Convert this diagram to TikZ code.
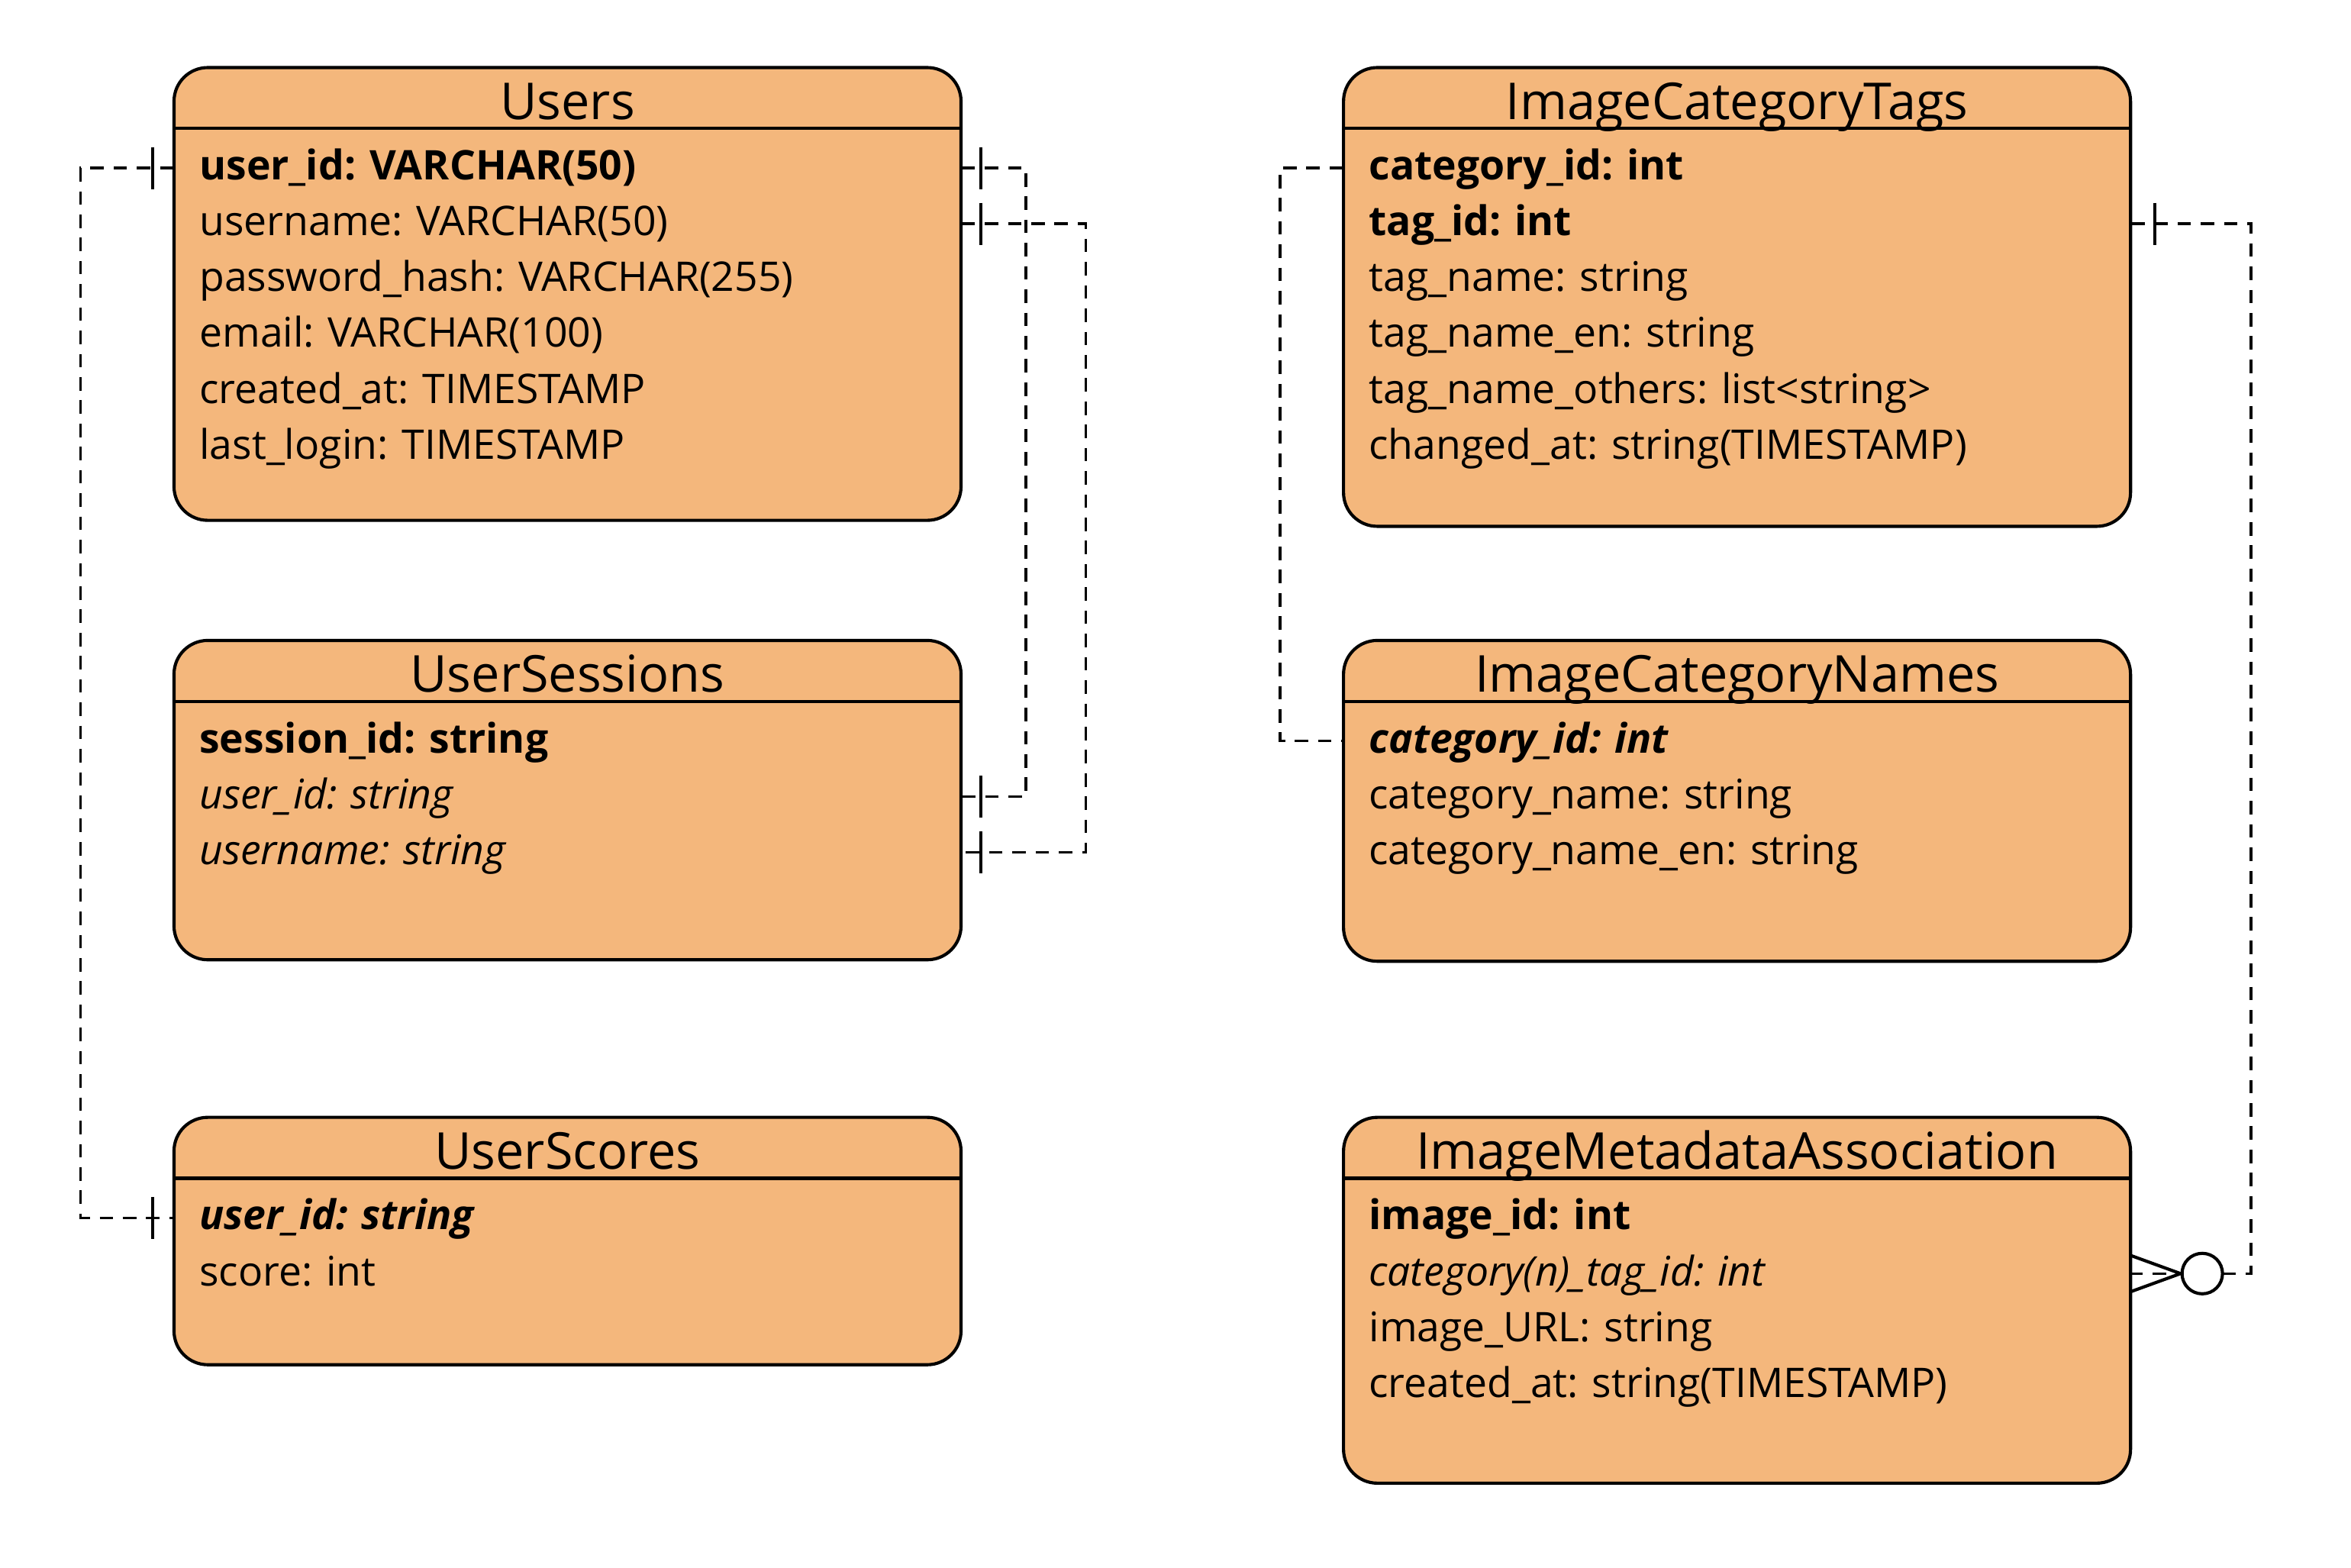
\documentclass[tikz,border=0pt]{standalone}
\usepackage{fontspec}
\setmainfont{Open Sans}
\usepackage{xcolor}
\usetikzlibrary{positioning,calc}

\definecolor{tblfill}{HTML}{F4B77C}
\frenchspacing

% bar of a "one" end, #1 = anchor, #2 = shift from the box edge
\newcommand{\onemark}[2]{\draw[barline] ([xshift=#2]#1) ++(0,0.28cm) -- ++(0,-0.56cm);}

\begin{document}
\begin{tikzpicture}[
    x=0.02cm, y=0.02cm,
    tbl/.style={rectangle, draw, line width=1.2pt, rounded corners=0.45cm, fill=tblfill, minimum width=10.5cm, anchor=north west, inner sep=0pt},
    ttl/.style={minimum width=10.5cm, minimum height=0.82cm, inner sep=0pt, text height=19pt, text depth=2.4pt, font=\fontsize{19.3}{22}\selectfont},
    fld/.style={text width=9.82cm, inner xsep=0.34cm, inner ysep=0pt, minimum height=0.73cm, align=left, text height=11.5pt, text depth=2.4pt, font=\fontsize{15.5}{18}\selectfont},
    rel/.style={line width=1pt, dash pattern=on 0.18cm off 0.13cm},
    barline/.style={line width=1.2pt}
]
    \useasboundingbox (0,0) rectangle (1568,-1045.3);

    % left column
    \node[tbl, minimum height=6.04cm] (users) at (115,-44) {};
    \node[ttl, below=0pt of users.north] (users-t) {Users};
    \draw[line width=1.2pt] (users-t.south west) -- (users-t.south east);
    \node[fld, below=0.155cm of users-t] (users-f1) {\textbf{user\_id: VARCHAR(50)}};
    \node[fld, below=0pt of users-f1] (users-f2) {username: VARCHAR(50)};
    \node[fld, below=0pt of users-f2] (users-f3) {password\_hash: VARCHAR(255)};
    \node[fld, below=0pt of users-f3] (users-f4) {email: VARCHAR(100)};
    \node[fld, below=0pt of users-f4] (users-f5) {created\_at: TIMESTAMP};
    \node[fld, below=0pt of users-f5] (users-f6) {last\_login: TIMESTAMP};

    \node[tbl, minimum height=4.26cm, below=1.56cm of users] (sess) {};
    \node[ttl, below=0pt of sess.north] (sess-t) {UserSessions};
    \draw[line width=1.2pt] (sess-t.south west) -- (sess-t.south east);
    \node[fld, below=0.155cm of sess-t] (sess-f1) {\textbf{session\_id: string}};
    \node[fld, below=0pt of sess-f1] (sess-f2) {\textit{user\_id: string}};
    \node[fld, below=0pt of sess-f2] (sess-f3) {\textit{username: string}};

    \node[tbl, minimum height=3.3cm, below=2.06cm of sess] (scores) {};
    \node[ttl, below=0pt of scores.north] (scores-t) {UserScores};
    \draw[line width=1.2pt] (scores-t.south west) -- (scores-t.south east);
    \node[fld, below=0.155cm of scores-t] (scores-f1) {\textbf{\textit{user\_id: string}}};
    \node[fld, below=0pt of scores-f1] (scores-f2) {score: int};

    % right column
    \node[tbl, minimum height=6.12cm] (tags) at (895,-44) {};
    \node[ttl, below=0pt of tags.north] (tags-t) {ImageCategoryTags};
    \draw[line width=1.2pt] (tags-t.south west) -- (tags-t.south east);
    \node[fld, below=0.155cm of tags-t] (tags-f1) {\textbf{category\_id: int}};
    \node[fld, below=0pt of tags-f1] (tags-f2) {\textbf{tag\_id: int}};
    \node[fld, below=0pt of tags-f2] (tags-f3) {tag\_name: string};
    \node[fld, below=0pt of tags-f3] (tags-f4) {tag\_name\_en: string};
    \node[fld, below=0pt of tags-f4] (tags-f5) {tag\_name\_others: list<string>};
    \node[fld, below=0pt of tags-f5] (tags-f6) {changed\_at: string(TIMESTAMP)};

    \node[tbl, minimum height=4.28cm, below=1.48cm of tags] (names) {};
    \node[ttl, below=0pt of names.north] (names-t) {ImageCategoryNames};
    \draw[line width=1.2pt] (names-t.south west) -- (names-t.south east);
    \node[fld, below=0.155cm of names-t] (names-f1) {\textbf{\textit{category\_id: int}}};
    \node[fld, below=0pt of names-f1] (names-f2) {category\_name: string};
    \node[fld, below=0pt of names-f2] (names-f3) {category\_name\_en: string};

    \node[tbl, minimum height=4.88cm, below=2.04cm of names] (meta) {};
    \node[ttl, below=0pt of meta.north] (meta-t) {ImageMetadataAssociation};
    \draw[line width=1.2pt] (meta-t.south west) -- (meta-t.south east);
    \node[fld, below=0.155cm of meta-t] (meta-f1) {\textbf{image\_id: int}};
    \node[fld, below=0pt of meta-f1] (meta-f2) {\textit{category(n)\_tag\_id: int}};
    \node[fld, below=0pt of meta-f2] (meta-f3) {image\_URL: string};
    \node[fld, below=0pt of meta-f3] (meta-f4) {created\_at: string(TIMESTAMP)};

    % relations
    \draw[rel] (users-f1.west) -- ++(-62,0) |- (scores-f1.west);
    \draw[rel] (users-f1.east) -- ++(43,0) |- (sess-f2.east);
    \draw[rel] (users-f2.east) -- ++(83,0) |- (sess-f3.east);
    \draw[rel] (tags-f1.west) -- ++(-42,0) |- (names-f1.west);
    \draw[rel] (tags-f2.east) -- ++(80,0) |- (meta-f2.east);

    \onemark{users-f1.west}{-0.28cm}
    \onemark{scores-f1.west}{-0.28cm}
    \onemark{users-f1.east}{0.26cm}
    \onemark{users-f2.east}{0.26cm}
    \onemark{sess-f2.east}{0.26cm}
    \onemark{sess-f3.east}{0.26cm}
    \onemark{tags-f2.east}{0.32cm}

    % zero or many
    \draw[barline] ([yshift=0.24cm]meta-f2.east) -- ([xshift=0.66cm]meta-f2.east) -- ([yshift=-0.24cm]meta-f2.east);
    \draw[barline, fill=white] ([xshift=0.95cm]meta-f2.east) circle (0.27cm);
\end{tikzpicture}
\end{document}
